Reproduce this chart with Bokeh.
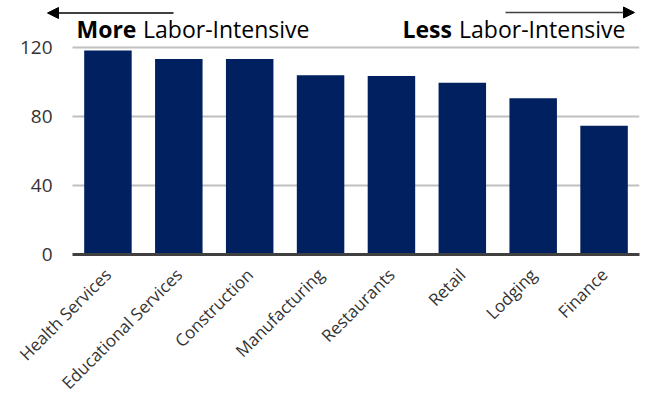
import math
from bokeh.plotting import figure
from bokeh.models import Range1d, FixedTicker, Arrow, NormalHead, BoxAnnotation
from bokeh.core.properties import value
from bokeh.embed import file_html
from bokeh.resources import INLINE

# ---- data ----
categories = ["Health Services", "Educational Services", "Construction", "Manufacturing",
              "Restaurants", "Retail", "Lodging", "Finance"]
values = [118, 113, 113, 103.7, 103.3, 99.3, 90.4, 74.4]
y_ticks = [0, 40, 80, 120]
header_bold = ["More", "Less"]
header_rest = ["Labor-Intensive", "Labor-Intensive"]

FONT = "Open Sans"
W, H = 645, 404
FRAME_LEFT, CAT_LEFT, RIGHT, BOTTOM = 44, 72, 6, 150
Y_TOP_PX = 46.5           # pixel row of the 120 gridline
n = len(categories)
xpos = list(range(n))     # category slots 0..n-1
px_per_cat = (W - CAT_LEFT - RIGHT) / n
frame_h = H - BOTTOM
y_end = 120 * frame_h / (frame_h - Y_TOP_PX)
x_start = -0.5 - (CAT_LEFT - FRAME_LEFT) / px_per_cat

p = figure(width=W, height=H, x_range=Range1d(x_start, n - 0.5), y_range=Range1d(0, y_end),
           output_backend="svg", toolbar_location=None, tools="",
           min_border_left=FRAME_LEFT, min_border_right=RIGHT, min_border_top=0,
           min_border_bottom=BOTTOM)
p.outline_line_color = None
p.background_fill_color = "white"
p.border_fill_color = "white"

p.ygrid.grid_line_color = "#c0c0c0"
p.ygrid.grid_line_width = 2
p.xgrid.grid_line_color = None
# blank strip left of the first category so gridlines start at the category area
p.add_layout(BoxAnnotation(right=-0.5, fill_color="white", fill_alpha=1.0,
                           line_color=None, level="underlay"))

p.vbar(x=xpos, top=values, width=0.67, fill_color="#002060", line_color=None)

p.yaxis.ticker = FixedTicker(ticks=y_ticks)
p.yaxis.axis_line_color = None
p.yaxis.major_tick_line_color = None
p.yaxis.minor_tick_line_color = None
p.yaxis.major_tick_out = 0
p.yaxis.major_tick_in = 0
p.yaxis.major_label_text_font = FONT
p.yaxis.major_label_text_font_size = "19px"
p.yaxis.major_label_text_color = "#333333"
p.yaxis.major_label_standoff = -(52 - FRAME_LEFT)

p.xaxis.ticker = FixedTicker(ticks=xpos)
p.xaxis.major_label_overrides = {i: c for i, c in zip(xpos, categories)}
p.xaxis.bounds = (-0.5, n - 0.5)
p.xaxis.axis_line_color = "#404040"
p.xaxis.axis_line_width = 3
p.xaxis.major_tick_line_color = None
p.xaxis.minor_tick_line_color = None
p.xaxis.major_tick_out = 0
p.xaxis.major_tick_in = 0
p.xaxis.major_label_orientation = math.pi / 4
p.xaxis.major_label_text_font = FONT
p.xaxis.major_label_text_font_size = "17px"
p.xaxis.major_label_text_color = "#333333"
p.xaxis.major_label_standoff = 17

# header placement helpers (pixel layout -> plot coordinates)
px_per_y = frame_h / y_end
def cx(px):
    return -0.5 + (px - CAT_LEFT) / px_per_cat
def cy(py):
    return (frame_h - py) / px_per_y

p.text(x=[cx(76), cx(402)], y=[cy(28), cy(28)], text=header_bold, text_font=value(FONT),
       text_font_size="23px", text_font_style="bold", text_color="black",
       text_align="left", text_baseline="middle")
p.text(x=[cx(309), cx(625)], y=[cy(28), cy(28)], text=header_rest, text_font=value(FONT),
       text_font_size="23px", text_color="black",
       text_align="right", text_baseline="middle")
p.add_layout(Arrow(x_start=cx(173), y_start=cy(12.5), x_end=cx(47), y_end=cy(12.5),
                   line_color="black", line_width=1.5,
                   end=NormalHead(size=11, fill_color="black", line_color="black")))
p.add_layout(Arrow(x_start=cx(505), y_start=cy(12), x_end=cx(634), y_end=cy(12),
                   line_color="#404040", line_width=1.5,
                   end=NormalHead(size=11, fill_color="black", line_color="black")))

open("out.html", "w").write(file_html(p, INLINE))
